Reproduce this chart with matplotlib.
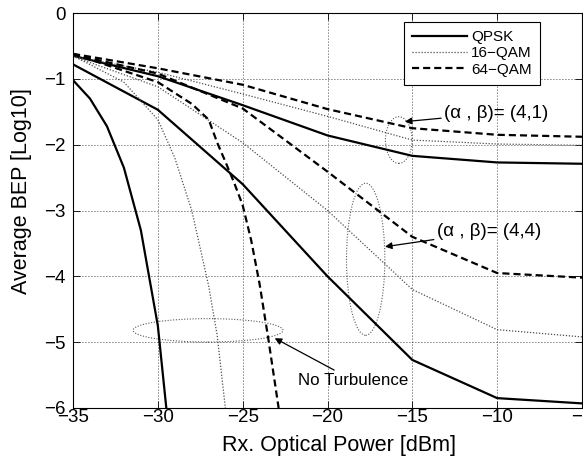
import numpy as np
import matplotlib
matplotlib.use("Agg")
import matplotlib.pyplot as plt
from matplotlib.patches import Ellipse

plt.rcParams['font.family'] = ['Liberation Sans', 'DejaVu Sans']

# received power grid for the turbulence curves
power_turb = [-35, -30, -25, -20, -15, -10, -5]
# (alpha, beta) = (4,1)
qpsk_41 = [-0.65, -0.96, -1.40, -1.86, -2.17, -2.27, -2.29]
qam16_41 = [-0.66, -0.90, -1.23, -1.57, -1.93, -1.99, -2.01]
qam64_41 = [-0.62, -0.84, -1.09, -1.46, -1.75, -1.85, -1.88]
# (alpha, beta) = (4,4)
qpsk_44 = [-0.78, -1.47, -2.60, -4.00, -5.27, -5.85, -5.93]
qam16_44 = [-0.66, -1.12, -1.97, -3.00, -4.20, -4.81, -4.92]
qam64_44 = [-0.63, -0.92, -1.45, -2.41, -3.40, -3.95, -4.02]

# no turbulence
power_nt_qpsk = [-35, -34, -33, -32, -31, -30, -29.5]
qpsk_nt = [-1.02, -1.30, -1.72, -2.35, -3.30, -4.75, -6.0]
power_nt_16 = [-35, -32, -30, -29, -28, -27, -26.5, -26.02]
qam16_nt = [-0.65, -1.05, -1.62, -2.20, -3.00, -4.15, -4.90, -6.0]
power_nt_64 = [-35, -30, -28, -27, -26.5, -26, -25.5, -25, -24.5, -24, -23.5, -22.88]
qam64_nt = [-0.62, -1.05, -1.38, -1.62, -1.97, -2.27, -2.58, -2.92, -3.45, -4.12, -4.93, -6.0]

xticks = [-35, -30, -25, -20, -15, -10, -5]
yticks = [0, -1, -2, -3, -4, -5, -6]

fig = plt.figure(figsize=(5.83, 4.63), dpi=100)
ax = fig.add_axes([73/583, 55/463, 509/583, 395/463])

solid = dict(color='black', lw=1.6, linestyle='-')
dotted = dict(color='0.3', lw=0.9, linestyle=(0, (1, 1.4)))
dashed = dict(color='black', lw=1.6, linestyle=(0, (3.2, 1.8)))

ax.plot(power_turb, qpsk_41, label='QPSK', **solid)
ax.plot(power_turb, qam16_41, label='16\u2212QAM', **dotted)
ax.plot(power_turb, qam64_41, label='64\u2212QAM', **dashed)
ax.plot(power_turb, qpsk_44, **solid)
ax.plot(power_turb, qam16_44, **dotted)
ax.plot(power_turb, qam64_44, **dashed)
ax.plot(power_nt_qpsk, qpsk_nt, **solid)
ax.plot(power_nt_16, qam16_nt, **dotted)
ax.plot(power_nt_64, qam64_nt, **dashed)

ax.set_xlim(-35, -5)
ax.set_ylim(-6, 0)
ax.set_xticks(xticks)
ax.set_yticks(yticks)
ax.tick_params(direction='in', length=5, width=0.6, top=True, right=True,
               labelsize=13.5)
ax.tick_params(axis='x', pad=0.8)
ax.tick_params(axis='y', pad=5.5)
ax.grid(True, color='black', lw=0.6, linestyle=(0, (1, 2.6)))
for s in ax.spines.values():
    s.set_linewidth(0.8)

ax.set_xlabel('Rx. Optical Power [dBm]', fontsize=15.5)
ax.set_ylabel('Average BEP [Log10]', fontsize=15.5)
ax.xaxis.set_label_coords(0.5226, -0.068)
ax.yaxis.set_label_coords(-0.081, 0.55)

# ellipses around curve groups
ell_kw = dict(fill=False, edgecolor='0.35', lw=0.8, linestyle=(0, (1, 1.5)))
ax.add_patch(Ellipse((-15.8, -1.93), 1.57, 0.71, **ell_kw))
ax.add_patch(Ellipse((-17.75, -3.74), 2.26, 2.31, **ell_kw))
ax.add_patch(Ellipse((-27.04, -4.82), 8.84, 0.355, **ell_kw))

arrow = dict(arrowstyle='-|>', color='black', lw=0.9, mutation_scale=10,
             shrinkA=0, shrinkB=0)
ax.annotate('(\u03b1 , \u03b2)= (4,1)', xy=(-15.44, -1.65), xytext=(-13.14, -1.52),
            fontsize=13.5, va='center', ha='left', arrowprops=arrow)
ax.annotate('(\u03b1 , \u03b2)= (4,4)', xy=(-16.61, -3.55), xytext=(-13.57, -3.32),
            fontsize=13.5, va='center', ha='left', arrowprops=arrow)
ax.annotate('No Turbulence', xy=(-23.11, -4.94), xytext=(-21.73, -5.58),
            fontsize=12.2, va='center', ha='left', arrowprops=arrow)

leg = ax.legend(loc='upper right', bbox_to_anchor=(0.9175, 0.978), fontsize=11,
                handlelength=3.6, handletextpad=0.25, labelspacing=0.15,
                borderpad=0.55, borderaxespad=0, fancybox=False, framealpha=1,
                edgecolor='black')
leg.get_frame().set_linewidth(0.8)

fig.savefig('out.png', dpi=100)
